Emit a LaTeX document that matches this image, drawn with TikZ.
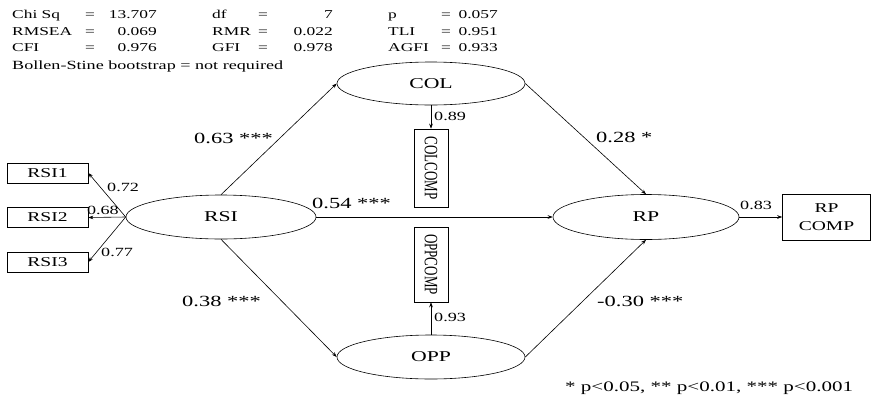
\documentclass[tikz,border=0pt]{standalone}
\usepackage{fontspec}
\setmainfont{Liberation Serif}[FakeStretch=1.45]
\newfontfamily\plainfont{Liberation Serif}
\usetikzlibrary{arrows.meta,shapes.geometric}
\begin{document}
\begin{tikzpicture}[x=1pt,y=-1pt,
  lat/.style={draw, ellipse, inner sep=0pt, line width=0.6pt, font=\fontsize{15}{15}\selectfont},
  obs/.style={draw, rectangle, inner sep=0pt, line width=0.6pt, font=\fontsize{13.5}{14}\selectfont},
  pth/.style={-{Stealth[length=5pt,width=3.6pt]}, line width=0.6pt},
  big/.style={font=\fontsize{15.5}{16}\selectfont, inner sep=0pt, text height=10pt, text depth=3pt},
  small/.style={font=\fontsize{12.5}{13}\selectfont, inner sep=0pt, text height=8.5pt, text depth=2.5pt},
  hdr/.style={font=\fontsize{12}{13}\selectfont, inner sep=0pt, text height=8.5pt, text depth=2.5pt}]
\useasboundingbox (0,0) rectangle (872,402);
% header
\node[hdr, anchor=west] (h11) at (12,15) {Chi Sq};
\node[hdr] (h12) at (90,15) {=};
\node[hdr, anchor=east] (h13) at (157,15) {13.707};
\node[hdr, anchor=west] (h14) at (212,15) {df};
\node[hdr] (h15) at (263,15) {=};
\node[hdr, anchor=east] (h16) at (333,15) {7};
\node[hdr, anchor=west] (h17) at (388,15) {p};
\node[hdr] (h18) at (446,15) {=};
\node[hdr, anchor=east] (h19) at (498,15) {0.057};
\node[hdr, anchor=west] (h21) at (12,32) {RMSEA};
\node[hdr] (h22) at (90,32) {=};
\node[hdr, anchor=east] (h23) at (157,32) {0.069};
\node[hdr, anchor=west] (h24) at (212,32) {RMR};
\node[hdr] (h25) at (263,32) {=};
\node[hdr, anchor=east] (h26) at (333,32) {0.022};
\node[hdr, anchor=west] (h27) at (388,32) {TLI};
\node[hdr] (h28) at (446,32) {=};
\node[hdr, anchor=east] (h29) at (498,32) {0.951};
\node[hdr, anchor=west] (h31) at (12,48) {CFI};
\node[hdr] (h32) at (90,48) {=};
\node[hdr, anchor=east] (h33) at (157,48) {0.976};
\node[hdr, anchor=west] (h34) at (212,48) {GFI};
\node[hdr] (h35) at (263,48) {=};
\node[hdr, anchor=east] (h36) at (333,48) {0.978};
\node[hdr, anchor=west] (h37) at (388,48) {AGFI};
\node[hdr] (h38) at (446,48) {=};
\node[hdr, anchor=east] (h39) at (498,48) {0.933};
\node[hdr, anchor=west, font=\fontsize{12.5}{13}\selectfont] (h41) at (12,66) {Bollen-Stine bootstrap = not required};
% latent variables
\node[lat, minimum width=190pt, minimum height=44pt] (RSI) at (221,217) {RSI};
\node[lat, minimum width=188pt, minimum height=43pt] (COL) at (431,83.5) {COL};
\node[lat, minimum width=186pt, minimum height=45pt] (RP) at (646,217) {RP};
\node[lat, minimum width=188pt, minimum height=44pt] (OPP) at (431,357) {OPP};
% observed
\node[obs, minimum width=81pt, minimum height=20pt] (RSI1) at (47.5,173) {RSI1};
\node[obs, minimum width=81pt, minimum height=20pt] (RSI2) at (47.5,217.5) {RSI2};
\node[obs, minimum width=81pt, minimum height=20pt] (RSI3) at (47.5,262) {RSI3};
\node[obs, minimum width=34pt, minimum height=78pt] (COLCOMP) at (431,168)
  {\rotatebox{-90}{\scalebox{1}[1.45]{\plainfont\fontsize{13}{13}\selectfont COLCOMP}}};
\node[obs, minimum width=34pt, minimum height=75pt] (OPPCOMP) at (431,264.5)
  {\rotatebox{-90}{\scalebox{1}[1.45]{\plainfont\fontsize{13}{13}\selectfont OPPCOMP}}};
\node[obs, minimum width=88pt, minimum height=46pt, align=center, font=\fontsize{13.5}{18}\selectfont] (RPCOMP) at (826.5,217) {RP\\COMP};
% paths
\draw[pth] (RSI.north) -- (COL.west);
\draw[pth] (RSI.south) -- (OPP.west);
\draw[pth] (RSI.east) -- (RP.west);
\draw[pth] (COL.east) -- (RP.north);
\draw[pth] (OPP.east) -- (RP.south);
\draw[pth] (COL.south) -- (COLCOMP.north);
\draw[pth] (OPP.north) -- (OPPCOMP.south);
\draw[pth] (RP.east) -- (RPCOMP.west);
\draw[pth] (RSI.west) -- (RSI1.east);
\draw[pth] (RSI.west) -- (RSI2.east);
\draw[pth] (RSI.west) -- (RSI3.east);
% labels
\node[small, anchor=west] (l72) at (107,188) {0.72};
\node[small, anchor=east] (l68) at (119,211) {0.68};
\node[small, anchor=west] (l77) at (101,253) {0.77};
\node[small, anchor=west] (l89) at (434,117) {0.89};
\node[small, anchor=west] (l93) at (434,318) {0.93};
\node[small, anchor=west] (l83) at (740,206) {0.83};
\node[big, anchor=west] (l63) at (194,140) {0.63 ***};
\node[big, anchor=west] (l54) at (312,205) {0.54 ***};
\node[big, anchor=west] (l38) at (182,303) {0.38 ***};
\node[big, anchor=west] (l28) at (596,139) {0.28 *};
\node[big, anchor=west] (l30) at (597,303) {-0.30 ***};
\node[font=\fontsize{14.5}{15}\selectfont, inner sep=0pt, anchor=west] (note) at (565,388) {* p<0.05, ** p<0.01, *** p<0.001};
\end{tikzpicture}
\end{document}
